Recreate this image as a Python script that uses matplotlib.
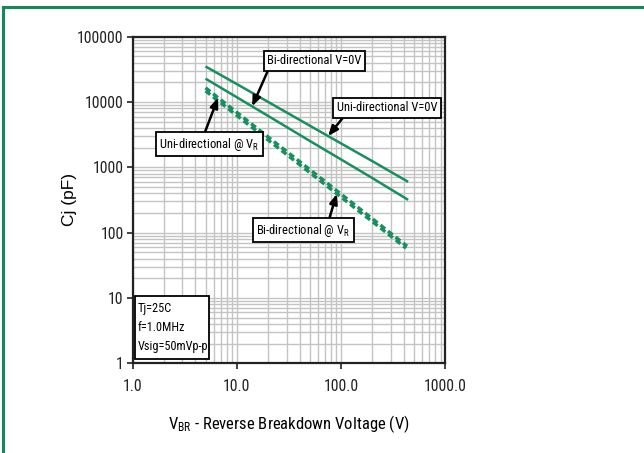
import numpy as np
import matplotlib
matplotlib.use("Agg")
import matplotlib.pyplot as plt
from matplotlib.patches import Rectangle

COND = ['Roboto Condensed', 'Liberation Sans', 'DejaVu Sans']
plt.rcParams['font.family'] = COND
plt.rcParams['mathtext.fontset'] = 'custom'
plt.rcParams['mathtext.rm'] = 'Roboto Condensed'

# Data
vbr = [5, 10, 20, 50, 100, 200, 440]
uni_v0 = [35000, 18800, 10000, 4350, 2320, 1240, 600]
bi_v0 = [22800, 11800, 6110, 2540, 1320, 683, 318]
vbr_uni_vr = [5, 10, 20, 50, 100, 200, 430]
uni_vr = [16500, 6920, 2900, 928, 389, 163, 62]
vbr_bi_vr = [5, 10, 20, 50, 100, 200, 420]
bi_vr = [14800, 6210, 2610, 833, 350, 147, 58]

x_ticks = [1, 10, 100, 1000]
x_tick_labels = ["1.0", "10.0", "100.0", "1000.0"]
y_ticks = [1, 10, 100, 1000, 10000, 100000]
y_tick_labels = ["1", "10", "100", "1000", "10000", "100000"]
conditions = ["Tj=25C", "f=1.0MHz", "Vsig=50mVp-p"]

green = '#16905f'

fig = plt.figure(figsize=(6.44, 4.53), dpi=100)
# green frame (top & left visible)
fig.patches.append(Rectangle((3/644, -0.05), 1.2, (453-7)/453 + 0.05, transform=fig.transFigure,
                             fill=False, edgecolor='#138a55', linewidth=2.2, zorder=0))

ax = fig.add_axes([132.7/644, 89.7/453, 312.6/644, 326.6/453])
ax.set_xscale('log')
ax.set_yscale('log')
ax.set_xlim(1, 1000)
ax.set_ylim(1, 100000)

ax.grid(True, which='both', color='#c4c4c4', linewidth=1.0)
ax.set_axisbelow(True)

ax.plot(vbr, uni_v0, color=green, lw=1.8, solid_capstyle='butt')
ax.plot(vbr, bi_v0, color=green, lw=1.8, solid_capstyle='butt')
ax.plot(vbr_uni_vr, uni_vr, color=green, lw=2.4, dashes=(1.8, 1.1))
ax.plot(vbr_bi_vr, bi_vr, color=green, lw=2.4, dashes=(1.8, 1.1))

for s in ax.spines.values():
    s.set_linewidth(1.6)
    s.set_color('#222222')

ax.set_xticks(x_ticks)
ax.set_xticklabels(x_tick_labels)
ax.set_yticks(y_ticks)
ax.set_yticklabels(y_tick_labels)
ax.tick_params(which='major', length=4, width=1.2, labelsize=11.3, colors='#222222')
ax.tick_params(axis='x', pad=7)
ax.tick_params(axis='y', pad=2.5)
ax.tick_params(which='minor', length=0)

ax.set_ylabel("Cj (pF)", fontsize=12.5, labelpad=0, family=['Liberation Sans'])
ax.set_xlabel(r"$\mathregular{V_{BR}}$ - Reverse Breakdown Voltage (V)", fontsize=12, labelpad=14)


def yval(xs, ys, x):
    return 10 ** np.interp(np.log10(x), np.log10(xs), np.log10(ys))


box = dict(boxstyle='square,pad=0.28', fc='white', ec='black', lw=1.3)
arrow = lambda rp: dict(arrowstyle='-|>,head_length=0.65,head_width=0.26', color='black',
                        lw=1.8, relpos=rp, shrinkA=0, shrinkB=0)

fs = 9
ax.annotate("Bi-directional V=0V", xy=(14, yval(vbr, bi_v0, 14)), xytext=(0.582, 0.926),
            textcoords='axes fraction', ha='center', va='center', fontsize=fs,
            bbox=box, arrowprops=arrow((0.02, 0)), zorder=5)
ax.annotate("Uni-directional V=0V", xy=(75, yval(vbr, uni_v0, 75)), xytext=(0.813, 0.782),
            textcoords='axes fraction', ha='center', va='center', fontsize=fs,
            bbox=box, arrowprops=arrow((0.09, 0)), zorder=5)
ax.annotate(r"Uni-directional @ V$_{\mathregular{R}}$", xy=(6.6, yval(vbr_uni_vr, uni_vr, 6.6)),
            xytext=(0.246, 0.671), textcoords='axes fraction', ha='center', va='center',
            fontsize=fs, bbox=box, arrowprops=arrow((0.45, 1.15)), zorder=5)
ax.annotate(r"Bi-directional @ V$_{\mathregular{R}}$", xy=(91, yval(vbr_bi_vr, bi_vr, 91)),
            xytext=(0.546, 0.407), textcoords='axes fraction', ha='center', va='center',
            fontsize=fs, bbox=box, arrowprops=arrow((0.77, 1.1)), zorder=5)

ax.add_patch(Rectangle((0.0074, 0.013), 0.2366, 0.192, transform=ax.transAxes,
                       fc='white', ec='black', lw=1.3, zorder=5))
for i, t in enumerate(conditions):
    ax.text(0.016, 0.168 - i * 0.058, t, transform=ax.transAxes, fontsize=8.8,
            va='center', ha='left', zorder=6)

fig.savefig("out.png", dpi=100)
